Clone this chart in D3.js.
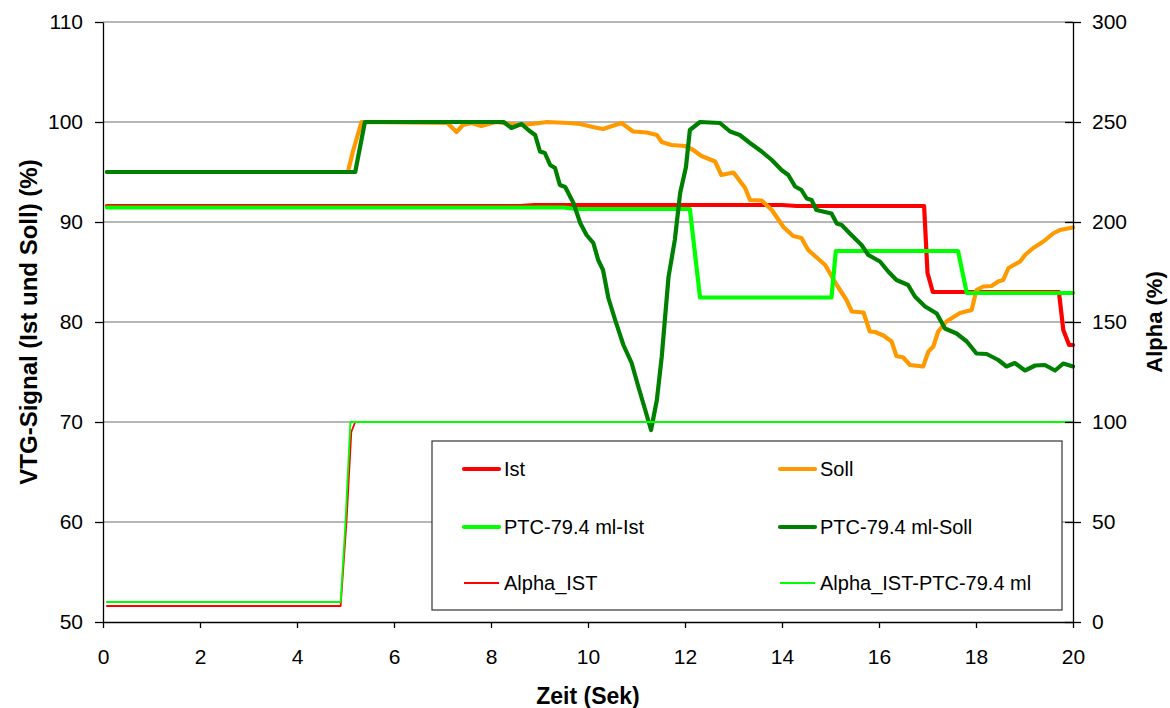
<!DOCTYPE html>
<html>
<head>
<meta charset="utf-8">
<script src="https://cdn.jsdelivr.net/npm/d3@7"></script>
<style>
  html, body { margin: 0; padding: 0; background: #fff; }
  svg { display: block; font-family: "Liberation Sans", Arial, sans-serif; }
</style>
</head>
<body>
<svg id="chart" width="1170" height="708"></svg>
<script>
// Time axis (seconds) and tick labels
const xTicks = [0, 2, 4, 6, 8, 10, 12, 14, 16, 18, 20];
const leftTicks = [50, 60, 70, 80, 90, 100, 110];
const rightTicks = [0, 50, 100, 150, 200, 250, 300];

// VTG signal series, [time s, value %] on the left axis
const ist = [[0.08,91.6],[8.6,91.6],[8.9,91.7],[14.0,91.7],[14.3,91.6],[16.93,91.6],[17.0,84.9],[17.11,83.0],[19.71,83.0],[19.8,79.2],[19.92,77.7],[20,77.7]];

const soll = [[0.08,95],[5.05,95],[5.15,97],[5.33,100],[7.1,99.9],[7.29,99.0],[7.42,99.7],[7.6,99.9],[7.8,99.6],[8.1,100],[8.4,99.8],[8.66,99.7],[9.0,99.9],[9.15,100],[9.6,99.9],[9.84,99.8],[10.1,99.5],[10.31,99.3],[10.5,99.6],[10.69,99.9],[10.93,99.05],[11.21,98.95],[11.42,98.7],[11.52,98.0],[11.72,97.7],[12.0,97.6],[12.17,97.2],[12.34,96.6],[12.62,96.05],[12.75,94.7],[13.0,94.95],[13.24,93.4],[13.34,92.2],[13.58,92.15],[13.79,91.2],[14.03,89.5],[14.23,88.6],[14.4,88.4],[14.54,87.2],[14.75,86.3],[14.89,85.7],[15.13,83.7],[15.33,82.2],[15.44,81.05],[15.68,80.95],[15.81,79.05],[15.92,79.0],[16.09,78.65],[16.26,78.05],[16.36,76.6],[16.5,76.45],[16.64,75.7],[16.91,75.55],[17.02,77.05],[17.12,77.55],[17.22,79.05],[17.39,80.05],[17.67,80.9],[17.91,81.2],[18.01,83.2],[18.15,83.55],[18.32,83.6],[18.46,84.05],[18.56,84.2],[18.67,85.4],[18.91,86.05],[19.01,86.7],[19.18,87.4],[19.39,88.05],[19.59,88.85],[19.73,89.2],[20,89.45]];

const ptcIst = [[0.08,91.45],[9.5,91.45],[9.75,91.3],[12.1,91.3],[12.31,82.45],[15.02,82.45],[15.11,87.1],[17.63,87.1],[17.81,82.9],[20,82.9]];

const ptcSoll = [[0.08,95],[5.2,95],[5.4,100],[8.26,100],[8.42,99.4],[8.63,99.8],[8.77,99.2],[8.91,98.7],[9.01,97.05],[9.11,96.9],[9.22,95.7],[9.32,95.4],[9.42,93.7],[9.53,93.5],[9.7,91.9],[9.84,89.9],[9.97,88.7],[10.11,87.9],[10.21,86.2],[10.31,85.2],[10.42,82.4],[10.56,80.2],[10.73,77.7],[10.9,75.9],[11.04,73.5],[11.18,71.2],[11.3,69.2],[11.42,72.2],[11.52,76.5],[11.66,84.5],[11.79,88.2],[11.9,92.9],[12.02,95.5],[12.1,99.2],[12.31,100],[12.72,99.9],[12.93,99.05],[13.13,98.7],[13.34,97.9],[13.58,97.05],[13.79,96.2],[13.99,95.2],[14.13,94.7],[14.27,93.55],[14.4,93.2],[14.51,92.35],[14.61,92.2],[14.71,91.2],[15.02,90.85],[15.13,89.85],[15.23,89.7],[15.4,88.85],[15.64,87.7],[15.78,86.7],[16.02,86.05],[16.19,85.05],[16.36,84.2],[16.6,83.7],[16.74,82.55],[16.95,81.55],[17.19,80.85],[17.36,79.35],[17.6,78.85],[17.81,78.05],[18.01,76.85],[18.22,76.8],[18.46,76.2],[18.63,75.55],[18.8,75.9],[19.01,75.15],[19.22,75.65],[19.42,75.7],[19.63,75.15],[19.8,75.85],[20,75.55]];

// Alpha series, [time s, value %] on the right axis
const alphaIst = [[0.08,8],[4.9,8],[5.02,50],[5.12,95],[5.2,100],[20,100]];
const alphaIstPtc = [[0.08,10],[4.9,10],[5.0,50],[5.1,100],[20,100]];

const svg = d3.select("#chart");
const plotLeft = 103, plotRight = 1073, plotTop = 22, plotBottom = 622;

const x = d3.scaleLinear().domain([0, 20]).range([plotLeft, plotRight]);
const yL = d3.scaleLinear().domain([50, 110]).range([plotBottom, plotTop]);
const yR = d3.scaleLinear().domain([0, 300]).range([plotBottom, plotTop]);

// horizontal gridlines
svg.append("g").selectAll("line")
  .data(leftTicks.filter(d => d > 50))
  .join("line")
  .attr("x1", plotLeft).attr("x2", plotRight)
  .attr("y1", d => yL(d)).attr("y2", d => yL(d))
  .attr("stroke", "#707070").attr("stroke-width", 1.2);

// series definitions (drawing order = legend order)
const series = [
  { name: "Ist", data: ist, axis: yL, color: "#ff0000", width: 4.2 },
  { name: "Soll", data: soll, axis: yL, color: "#ff9900", width: 4.2 },
  { name: "PTC-79.4 ml-Ist", data: ptcIst, axis: yL, color: "#00ff00", width: 4.2 },
  { name: "PTC-79.4 ml-Soll", data: ptcSoll, axis: yL, color: "#008000", width: 4.2 },
  { name: "Alpha_IST", data: alphaIst, axis: yR, color: "#ff0000", width: 1.8 },
  { name: "Alpha_IST-PTC-79.4 ml", data: alphaIstPtc, axis: yR, color: "#00ff00", width: 1.8 }
];

const plot = svg.append("g");
series.forEach(s => {
  const line = d3.line().x(d => x(d[0])).y(d => s.axis(d[1]));
  plot.append("path")
    .datum(s.data)
    .attr("d", line)
    .attr("fill", "none")
    .attr("stroke", s.color)
    .attr("stroke-width", s.width)
    .attr("stroke-linejoin", "round")
    .attr("stroke-linecap", "round");
});

// axes
const tickFont = 21;
const gx = svg.append("g").attr("transform", `translate(0,${plotBottom})`)
  .call(d3.axisBottom(x).tickValues(xTicks).tickSizeInner(6).tickSizeOuter(0).tickPadding(21));
const gl = svg.append("g").attr("transform", `translate(${plotLeft},0)`)
  .call(d3.axisLeft(yL).tickValues(leftTicks).tickSizeInner(8).tickSizeOuter(0).tickPadding(12));
const gr = svg.append("g").attr("transform", `translate(${plotRight},0)`)
  .call(d3.axisRight(yR).tickValues(rightTicks).tickSizeInner(8).tickSizeOuter(0).tickPadding(11));
// right-axis ticks cross the axis line
gr.selectAll(".tick").append("line").attr("x1", -8).attr("x2", 0).attr("stroke", "#000");

[gx, gl, gr].forEach(g => {
  g.select(".domain").attr("stroke", "#000").attr("stroke-width", 1.3);
  g.selectAll(".tick line").attr("stroke", "#000").attr("stroke-width", 1.3);
  g.selectAll(".tick text")
    .attr("fill", "#000")
    .style("font-size", tickFont + "px")
    .style("font-family", "'Liberation Sans', Arial, sans-serif");
});

// axis titles
svg.append("text")
  .attr("x", (plotLeft + plotRight) / 2).attr("y", 704)
  .attr("text-anchor", "middle")
  .style("font-size", "23px").style("font-weight", "bold")
  .text("Zeit (Sek)");
svg.append("text")
  .attr("transform", `translate(37,${(plotTop + plotBottom) / 2}) rotate(-90)`)
  .attr("text-anchor", "middle")
  .style("font-size", "24px").style("font-weight", "bold")
  .text("VTG-Signal (Ist und Soll) (%)");
svg.append("text")
  .attr("transform", `translate(1162,${(plotTop + plotBottom) / 2}) rotate(-90)`)
  .attr("text-anchor", "middle")
  .style("font-size", "22px").style("font-weight", "bold")
  .text("Alpha (%)");

// legend
const legend = svg.append("g");
legend.append("rect")
  .attr("x", 432).attr("y", 441).attr("width", 630).attr("height", 169)
  .attr("fill", "#fff").attr("stroke", "#333").attr("stroke-width", 1.2);
const rowsY = [469, 527, 583];
const colsX = [464, 780];
series.forEach((s, i) => {
  const cx = colsX[i % 2], cy = rowsY[Math.floor(i / 2)];
  legend.append("line")
    .attr("x1", cx).attr("x2", cx + 35).attr("y1", cy).attr("y2", cy)
    .attr("stroke", s.color).attr("stroke-width", s.width)
    .attr("stroke-linecap", s.width > 3 ? "round" : "butt");
  legend.append("text")
    .attr("x", cx + 40).attr("y", cy).attr("dy", "0.35em")
    .style("font-size", "20px")
    .text(s.name);
});
</script>
</body>
</html>
